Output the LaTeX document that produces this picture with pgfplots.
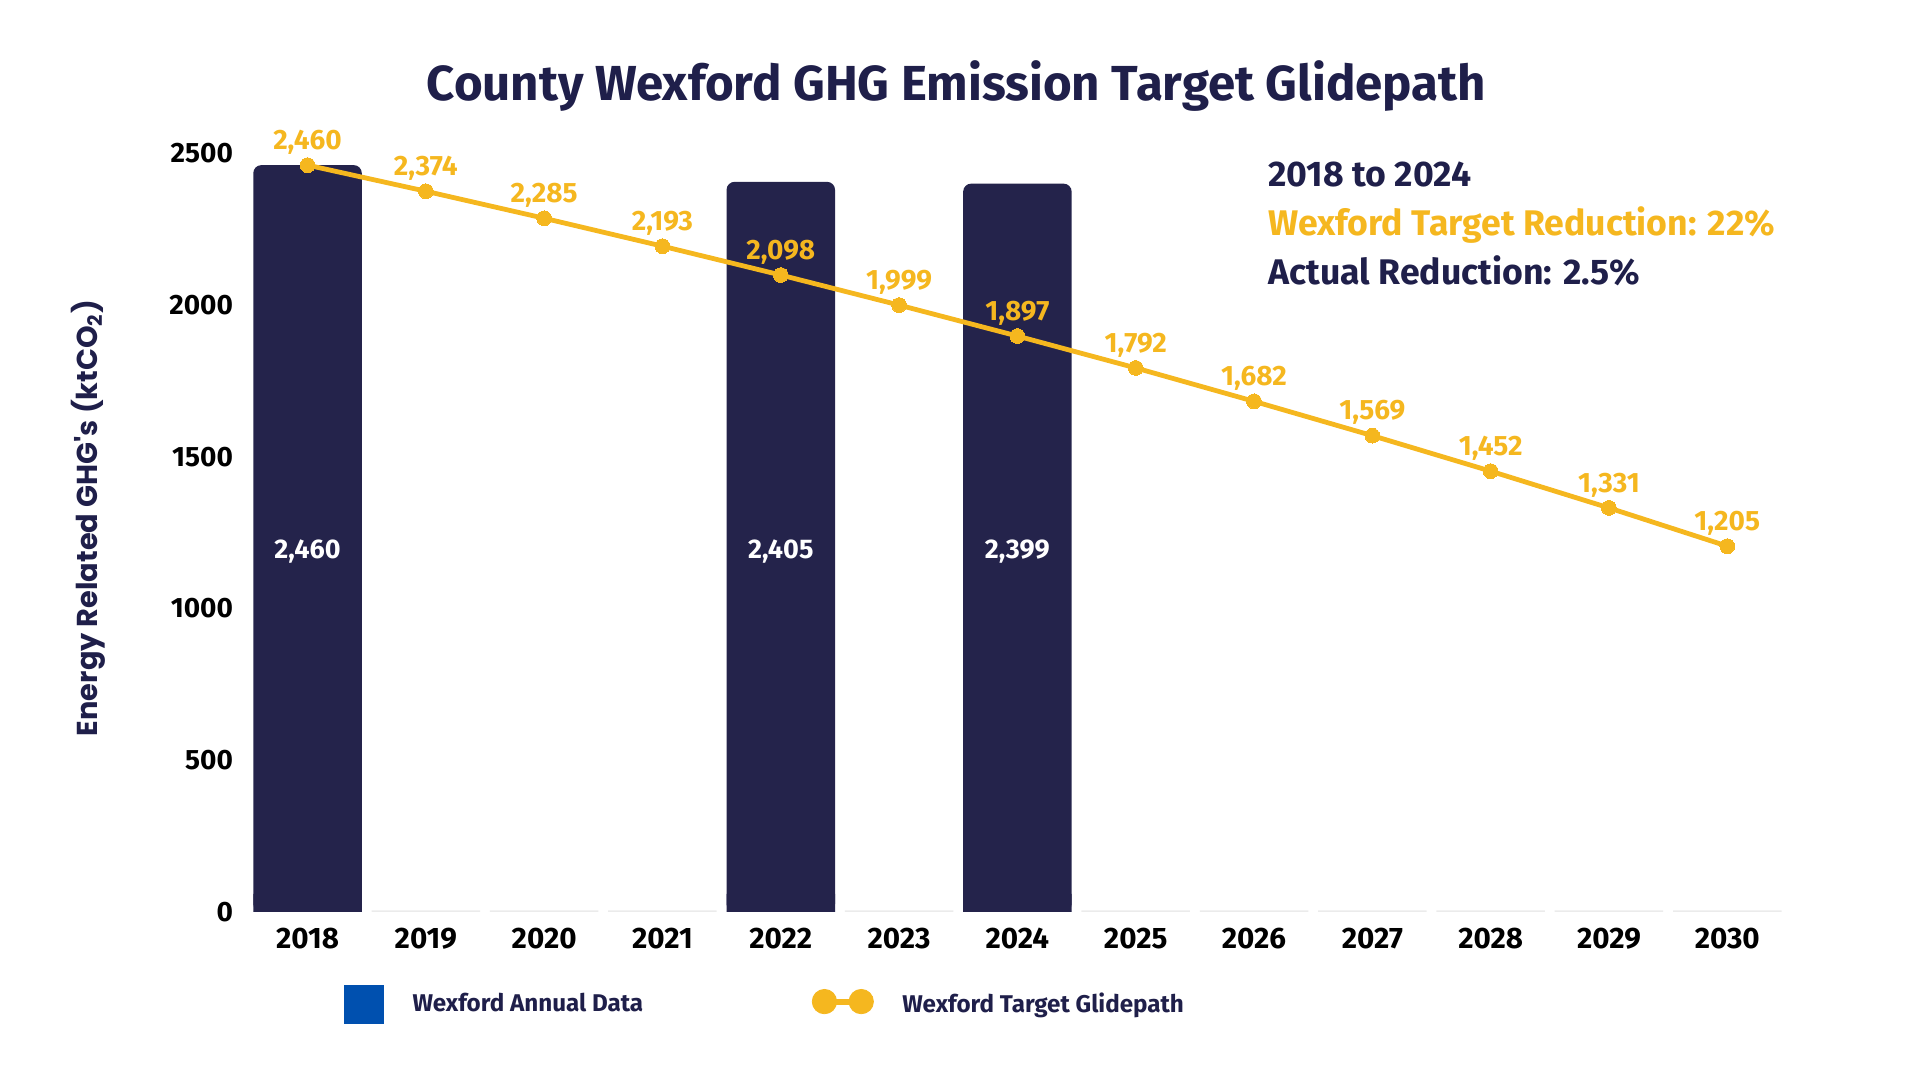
\documentclass[border=0pt]{standalone}
\usepackage{fontspec}
\setmainfont{Fira Sans}
\newfontfamily\poppins{Poppins}
\usepackage{pgfplots}
\pgfplotsset{compat=1.18}
\definecolor{navy}{HTML}{24234B}
\definecolor{ttl}{HTML}{1F1F4A}
\definecolor{gold}{HTML}{F5B71F}
\definecolor{lblue}{HTML}{0050AF}
\definecolor{seg}{HTML}{EBEBEB}
\begin{document}
\begin{tikzpicture}
\path[use as bounding box] (-124.2pt,-84pt) rectangle (835.8pt,456pt);
\begin{axis}[
  at={(0,0)}, anchor=south west, scale only axis,
  width=769pt, height=379.5pt,
  xmin=-0.5, xmax=12.5, ymin=0, ymax=2500,
  clip=false,
  axis line style={draw=none},
  major tick length=0pt,
  xtick={0,...,12},
  xticklabels={2018,2019,2020,2021,2022,2023,2024,2025,2026,2027,2028,2029,2030},
  ytick={0,500,1000,1500,2000,2500},
  /pgf/number format/1000 sep={},
  /pgf/number format/assume math mode=true,
  xticklabel style={font=\bfseries\fontsize{14.8}{14.8}\selectfont, text=black, yshift=-4.6pt},
  yticklabel style={font=\bfseries\fontsize{14}{14}\selectfont, text=black, xshift=-4.2pt},
  legend columns=2,
  legend style={at={(0.0622,-0.1212)}, anchor=west, draw=none, fill=none,
    inner sep=0pt, outer sep=0pt,
    font=\bfseries\fontsize{12.1}{12.1}\selectfont, text=ttl,
    nodes={inner xsep=0pt},
    /tikz/every odd column/.append style={column sep=14.3pt},
    /tikz/every even column/.append style={column sep=85.7pt}},
]
% light baseline segments
\addplot[ybar, bar width=0.917, bar shift=0pt, fill=seg, draw=none, forget plot]
  coordinates {(0,5) (1,5) (2,5) (3,5) (4,5) (5,5) (6,5) (7,5) (8,5) (9,5) (10,5) (11,5) (12,5)};
% annual data bars (rounded tops, square bottoms)
\addplot[ybar, bar width=0.917, bar shift=0pt, fill=navy, draw=none, rounded corners=4pt, forget plot]
  coordinates {(0,2460) (4,2405) (6,2399)};
\addplot[ybar, bar width=0.917, bar shift=0pt, fill=navy, draw=none, forget plot]
  coordinates {(0,60) (4,60) (6,60)};
% bar value labels
\addplot[only marks, mark=none, forget plot, point meta=explicit symbolic,
  nodes near coords,
  every node near coord/.style={anchor=center, text=white, font=\bfseries\fontsize{13.5}{13.5}\selectfont}]
  coordinates {(0,1187) [2,460] (4,1187) [2,405] (6,1187) [2,399]};
% target glidepath
\addplot[gold, line width=2.4pt, mark=*, mark size=3.7pt, mark options={fill=gold, draw=gold, line width=0pt},
  forget plot, point meta=explicit symbolic, nodes near coords,
  every node near coord/.style={anchor=center, yshift=11.5pt, text=gold, font=\bfseries\fontsize{14}{14}\selectfont}]
  coordinates {(0,2460) [2,460] (1,2374) [2,374] (2,2285) [2,285] (3,2193) [2,193]
   (4,2098) [2,098] (5,1999) [1,999] (6,1897) [1,897] (7,1792) [1,792]
   (8,1682) [1,682] (9,1569) [1,569] (10,1452) [1,452] (11,1331) [1,331] (12,1205) [1,205]};
% legend
\addlegendimage{legend image code/.code={\fill[lblue] (0pt,-9.5pt) rectangle (19.6pt,9.5pt);}}
\addlegendentry{\makebox[113.9pt][l]{Wexford Annual Data}}
\addlegendimage{legend image code/.code={\draw[gold, line width=3pt] (6.1pt,1.2pt) -- (24.5pt,1.2pt);
  \fill[gold] (6.1pt,1.2pt) circle (6.1pt); \fill[gold] (24.5pt,1.2pt) circle (6.1pt);}}
\addlegendentry{Wexford Target Glidepath}
\end{axis}
\node[anchor=base, font=\bfseries\fontsize{24.6}{24.6}\selectfont, text=ttl] at (354pt,405.8pt)
  {County Wexford GHG Emission Target Glidepath};
\node[anchor=base west, inner sep=0pt, font=\bfseries\fontsize{17.8}{17.8}\selectfont, text=ttl] at (509.8pt,362.5pt) {2018 to 2024};
\node[anchor=base west, inner sep=0pt, font=\bfseries\fontsize{17.8}{17.8}\selectfont, text=gold] at (509.8pt,338pt) {Wexford Target Reduction: 22\%};
\node[anchor=base west, inner sep=0pt, font=\bfseries\fontsize{17.8}{17.8}\selectfont, text=ttl] at (509.8pt,313.5pt) {Actual Reduction: 2.5\%};
\node[rotate=90, font=\poppins\bfseries\fontsize{14.4}{14.4}\selectfont, text=ttl] at (-80.2pt,197pt)
  {Energy Related GHG's (ktCO\textsubscript{2})};
\end{tikzpicture}
\end{document}
